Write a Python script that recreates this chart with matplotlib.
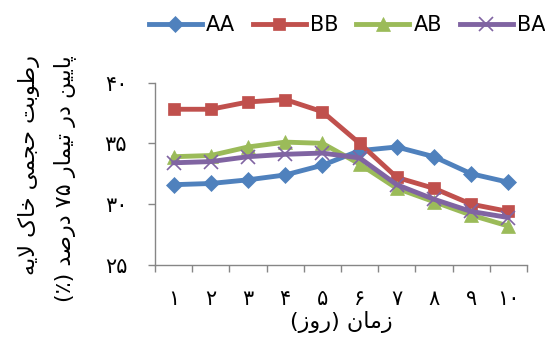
import matplotlib
matplotlib.use("Agg")
import matplotlib.pyplot as plt
from matplotlib.lines import Line2D

plt.rcParams['font.family'] = ['DejaVu Sans']

# ---------------- data ----------------
days = ['۱', '۲', '۳', '۴', '۵', '۶', '۷', '۸', '۹', '۱۰']
AA = [31.6, 31.7, 32.0, 32.4, 33.2, 34.4, 34.7, 33.9, 32.5, 31.8]
BB = [37.8, 37.8, 38.4, 38.6, 37.6, 35.0, 32.2, 31.3, 30.0, 29.4]
AB = [33.9, 34.0, 34.7, 35.1, 35.0, 33.3, 31.3, 30.2, 29.1, 28.2]
BA = [33.4, 33.5, 33.9, 34.1, 34.2, 33.8, 31.6, 30.4, 29.4, 28.9]
series_names = ['AA', 'BB', 'AB', 'BA']
yticks = [25, 30, 35, 40]
ytick_labels = ['۲۵', '۳۰', '۳۵', '۴۰']

# ------------- simple Persian shaping (presentation forms, visual order) -------------
FORMS = {
    'ا': ('\uFE8D', '\uFE8E', None, None),
    'ب': ('\uFE8F', '\uFE90', '\uFE91', '\uFE92'),
    'پ': ('\uFB56', '\uFB57', '\uFB58', '\uFB59'),
    'ت': ('\uFE95', '\uFE96', '\uFE97', '\uFE98'),
    'ج': ('\uFE9D', '\uFE9E', '\uFE9F', '\uFEA0'),
    'ح': ('\uFEA1', '\uFEA2', '\uFEA3', '\uFEA4'),
    'خ': ('\uFEA5', '\uFEA6', '\uFEA7', '\uFEA8'),
    'د': ('\uFEA9', '\uFEAA', None, None),
    'ر': ('\uFEAD', '\uFEAE', None, None),
    'ز': ('\uFEAF', '\uFEB0', None, None),
    'ص': ('\uFEB9', '\uFEBA', '\uFEBB', '\uFEBC'),
    'ط': ('\uFEC1', '\uFEC2', '\uFEC3', '\uFEC4'),
    'ل': ('\uFEDD', '\uFEDE', '\uFEDF', '\uFEE0'),
    'م': ('\uFEE1', '\uFEE2', '\uFEE3', '\uFEE4'),
    'ن': ('\uFEE5', '\uFEE6', '\uFEE7', '\uFEE8'),
    'ه': ('\uFEE9', '\uFEEA', '\uFEEB', '\uFEEC'),
    'و': ('\uFEED', '\uFEEE', None, None),
    'ک': ('\uFB8E', '\uFB8F', '\uFB90', '\uFB91'),
    'ی': ('\uFBFC', '\uFBFD', '\uFBFE', '\uFBFF'),
}


def shape(word):
    out = []
    i = 0
    n = len(word)
    while i < n:
        c = word[i]
        if c not in FORMS:
            out.append(c)
            i += 1
            continue
        prev_joins = i > 0 and word[i - 1] in FORMS and FORMS[word[i - 1]][2] is not None
        if c == 'ل' and i + 1 < n and word[i + 1] == 'ا':
            out.append('\uFEFC' if prev_joins else '\uFEFB')
            i += 2
            continue
        iso, fin, ini, med = FORMS[c]
        can_next = ini is not None and i + 1 < n and word[i + 1] in FORMS
        if prev_joins and can_next:
            g = med
        elif prev_joins:
            g = fin
        elif can_next:
            g = ini
        else:
            g = iso
        out.append(g)
        i += 1
    return ''.join(reversed(out))


ylab1 = ' '.join(shape(w) for w in reversed(['رطوبت', 'حجمی', 'خاک', 'لایه']))
ylab2 = '(٪) ' + shape('درصد') + ' ۷۵ ' + shape('تیمار') + ' ' + shape('در') + ' ' + shape('پایین')
xlab = '(' + shape('روز') + ') ' + shape('زمان')

# ---------------- figure ----------------
fig = plt.figure(figsize=(5.45, 3.41), dpi=100)
ax = fig.add_axes([155 / 545, 1 - 265 / 341, (527 - 155) / 545, (265 - 82.5) / 341])

colors = ['#4F81BD', '#C0504D', '#9BBB59', '#8064A2']
markers = ['D', 's', '^', 'x']
msizes = [8, 9, 10, 10]
x = list(range(len(days)))
for vals, name, col, mk, ms in zip([AA, BB, AB, BA], series_names, colors, markers, msizes):
    ax.plot(x, vals, color=col, lw=3.5, marker=mk, markersize=ms,
            markeredgewidth=1.2 if mk == 'x' else 0.5, markeredgecolor=col,
            solid_capstyle='round', solid_joinstyle='round', label=name)

ax.set_xlim(-0.5, len(days) - 0.5)
ax.set_ylim(25, 40)
ax.set_yticks(yticks)
ax.set_yticklabels(ytick_labels, fontsize=15)
ax.set_xticks(x)
ax.set_xticklabels(days, fontsize=15)
ax.set_xticks([i - 0.5 for i in range(len(days) + 1)], minor=True)
ax.tick_params(axis='x', which='major', length=0, pad=17)
ax.tick_params(axis='x', which='minor', length=5, direction='out', color='#868686', width=1)
ax.tick_params(axis='y', length=5, direction='out', color='#868686', width=1, pad=15)
for s in ['top', 'right']:
    ax.spines[s].set_visible(False)
for s in ['left', 'bottom']:
    ax.spines[s].set_color('#868686')
    ax.spines[s].set_linewidth(1)

fig.text(47 / 545, 1 - 55 / 341, ylab1 + '\n' + ylab2, rotation=90, ha='center', va='top',
         multialignment='right', fontsize=16, linespacing=1.75)
fig.text(341 / 545, 1 - 322 / 341, xlab, ha='center', va='center', fontsize=16)

handles = [Line2D([0], [0], color=c, lw=3.5, marker=m, markersize=ms,
                  markeredgewidth=1.2 if m == 'x' else 0.5, markeredgecolor=c)
           for c, m, ms in zip(colors, markers, msizes)]
fig.legend(handles, series_names, loc='center', bbox_to_anchor=(347 / 545, 1 - 25 / 341),
           ncol=4, frameon=False, fontsize=15, handlelength=2.55, handletextpad=0.2,
           columnspacing=0.85, borderaxespad=0, borderpad=0)

fig.savefig('out.png', dpi=100)
